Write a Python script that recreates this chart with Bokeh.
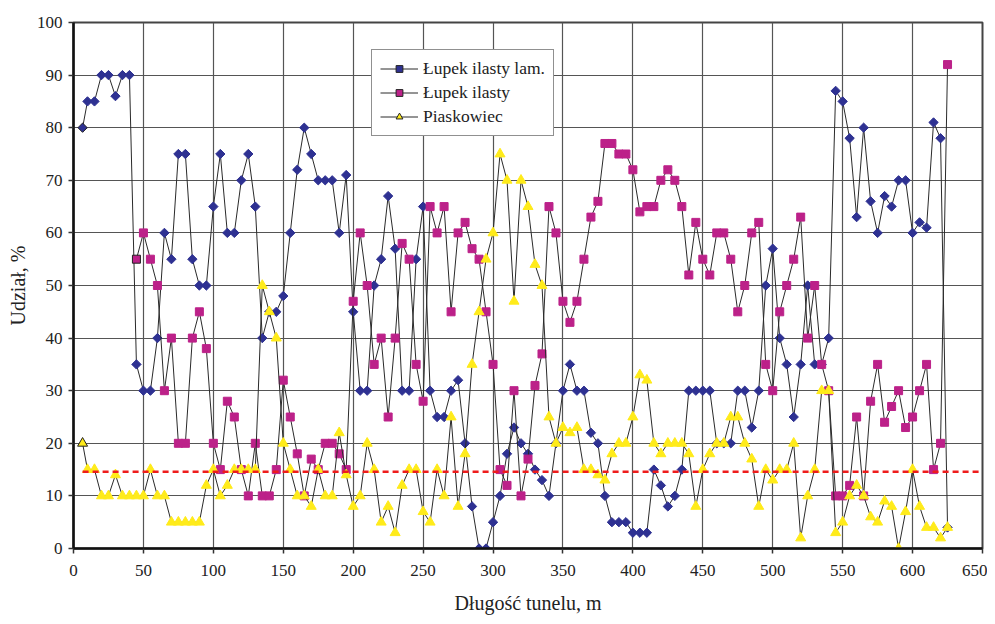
import math
from bokeh.plotting import figure
from bokeh.models import Range1d, FixedTicker, Legend, LegendItem
from bokeh.embed import file_html
from bokeh.resources import INLINE

# ---------------- data ----------------
# tunnel chainage [m] of the samples
x_m = [6.5] + list(range(10, 626, 5))

# Łupek ilasty lam. (starts at 6.5 m)
lupek_lam = [
    80, 85, 85, 90, 90, 86, 90, 90, 35, 30,
    30, 40, 60, 55, 75, 75, 55, 50, 50, 65,
    75, 60, 60, 70, 75, 65, 40, 45, 45, 48,
    60, 72, 80, 75, 70, 70, 70, 60, 71, 45,
    30, 30, 50, 55, 67, 57, 30, 30, 55, 65,
    30, 25, 25, 30, 32, 20, 8, 0, 0, 5,
    10, 18, 23, 20, 18, 15, 13, 10, 20, 30,
    35, 30, 30, 22, 20, 10, 5, 5, 5, 3,
    3, 3, 15, 12, 8, 10, 15, 30, 30, 30,
    30, 20, 20, 20, 30, 30, 23, 30, 50, 57,
    40, 35, 25, 35, 50, 35, 35, 40, 87, 85,
    78, 63, 80, 66, 60, 67, 65, 70, 70, 60,
    62, 61, 81, 78, 4,
]

# Łupek ilasty (starts at 45 m)
lupek = [
    55, 60,
    55, 50, 30, 40, 20, 20, 40, 45, 38, 20,
    15, 28, 25, 15, 10, 20, 10, 10, 15, 32,
    25, 18, 10, 17, 15, 20, 20, 18, 15, 47,
    60, 50, 35, 40, 25, 40, 58, 55, 35, 28,
    65, 60, 65, 45, 60, 62, 57, 55, 45, 35,
    15, 12, 30, 10, 17, 31, 37, 65, 60, 47,
    43, 47, 55, 63, 66, 77, 77, 75, 75, 72,
    64, 65, 65, 70, 72, 70, 65, 52, 62, 55,
    52, 60, 60, 55, 45, 50, 60, 62, 35, 30,
    45, 50, 55, 63, 40, 50, 35, 30, 10, 10,
    12, 25, 10, 28, 35, 24, 27, 30, 23, 25,
    30, 35, 15, 20, 92,
]

# Piaskowiec (starts at 6.5 m)
piaskowiec = [
    20, 15, 15, 10, 10, 14, 10, 10, 10, 10,
    15, 10, 10, 5, 5, 5, 5, 5, 12, 15,
    10, 12, 15, 15, 15, 15, 50, 45, 40, 20,
    15, 10, 10, 8, 15, 10, 10, 22, 14, 8,
    10, 20, 15, 5, 8, 3, 12, 15, 15, 7,
    5, 15, 10, 25, 8, 18, 35, 45, 55, 60,
    75, 70, 47, 70, 65, 54, 50, 25, 20, 23,
    22, 23, 15, 15, 14, 13, 18, 20, 20, 25,
    33, 32, 20, 18, 20, 20, 20, 18, 8, 15,
    18, 20, 20, 25, 25, 20, 17, 8, 15, 13,
    15, 15, 20, 2, 10, 15, 30, 30, 3, 5,
    10, 12, 10, 6, 5, 9, 8, 0, 7, 15,
    8, 4, 4, 2, 4,
]

x_lupek = x_m[len(x_m) - len(lupek):]

reference_level = 14.6      # red dashed line, %
x_ticks = list(range(0, 651, 50))
y_ticks = list(range(0, 101, 10))
X_MAX = 650
Y_MAX = 100

# ---------------- styling ----------------
FONT = "Liberation Serif"
BLUE = "#2E3192"
PINK = "#BC2189"
YELLOW = "#FFEB1A"
LINE = "#2a2a2a"

p = figure(width=987, height=616,
           x_range=Range1d(0, X_MAX), y_range=Range1d(0, Y_MAX),
           output_backend="svg", toolbar_location=None,
           min_border_left=73, min_border_right=5,
           min_border_top=22, min_border_bottom=68)

p.background_fill_color = "white"
p.border_fill_color = "white"
p.outline_line_color = "#444444"
p.outline_line_width = 2

p.xaxis.ticker = FixedTicker(ticks=x_ticks)
p.yaxis.ticker = FixedTicker(ticks=y_ticks)
p.xaxis.minor_tick_line_color = None
p.yaxis.minor_tick_line_color = None
for ax in (p.xaxis, p.yaxis):
    ax.axis_line_color = "#111111"
    ax.axis_line_width = 2.5
    ax.major_tick_line_color = "#333333"
    ax.major_tick_line_width = 1.5
    ax.major_tick_in = 0
    ax.major_tick_out = 5
    ax.major_label_text_font = FONT
    ax.major_label_text_font_size = "17px"
    ax.major_label_text_font_style = "normal"
    ax.major_label_text_color = "#222222"
    ax.axis_label_text_font = FONT
    ax.axis_label_text_font_size = "20px"
    ax.axis_label_text_font_style = "normal"
    ax.axis_label_text_color = "#222222"
p.xaxis.major_label_standoff = 11
p.yaxis.major_label_standoff = 6
p.xaxis.axis_label_standoff = 13
p.yaxis.axis_label_standoff = 5
p.xaxis.axis_label = "Długość tunelu, m"
p.yaxis.axis_label = "Udział, %"

p.xgrid.grid_line_color = "#555555"
p.ygrid.grid_line_color = "#555555"
p.xgrid.grid_line_width = 1.2
p.ygrid.grid_line_width = 1.2

# ---------------- series ----------------
def series(xs, ys, color, marker, size, angle=0.0):
    ln = p.line(xs, ys, line_color=LINE, line_width=1)
    p.scatter(xs[1:], ys[1:], marker=marker, size=size, angle=angle,
              fill_color=color, line_color=color, line_width=1)
    first = p.scatter(xs[:1], ys[:1], marker=marker, size=size, angle=angle,
                      fill_color=color, line_color="#222222", line_width=1)
    return ln, first

b_line, b_first = series(x_m, lupek_lam, BLUE, "square", 6.6, math.pi / 4)
m_line, m_first = series(x_lupek, lupek, PINK, "square", 8)
y_line, y_first = series(x_m, piaskowiec, YELLOW, "triangle", 10)

p.line([x_m[0], X_MAX], [reference_level, reference_level],
       line_color="#EE1C1C", line_width=2.5, line_dash="6 4")

legend = Legend(items=[
    LegendItem(label="Łupek ilasty lam.", renderers=[b_line, b_first]),
    LegendItem(label="Łupek ilasty", renderers=[m_line, m_first]),
    LegendItem(label="Piaskowiec", renderers=[y_line, y_first]),
], location=(298, 412))
legend.label_text_font = FONT
legend.label_text_font_style = "normal"
legend.label_text_font_size = "17.5px"
legend.label_text_color = "#222222"
legend.glyph_width = 38
legend.glyph_height = 17
legend.label_height = 20
legend.label_standoff = 5
legend.padding = 8
legend.spacing = 3
legend.margin = 0
legend.border_line_color = "#222222"
legend.border_line_width = 1
legend.background_fill_color = "white"
legend.background_fill_alpha = 1
p.add_layout(legend, "center")

open("out.html", "w").write(file_html(p, INLINE))
